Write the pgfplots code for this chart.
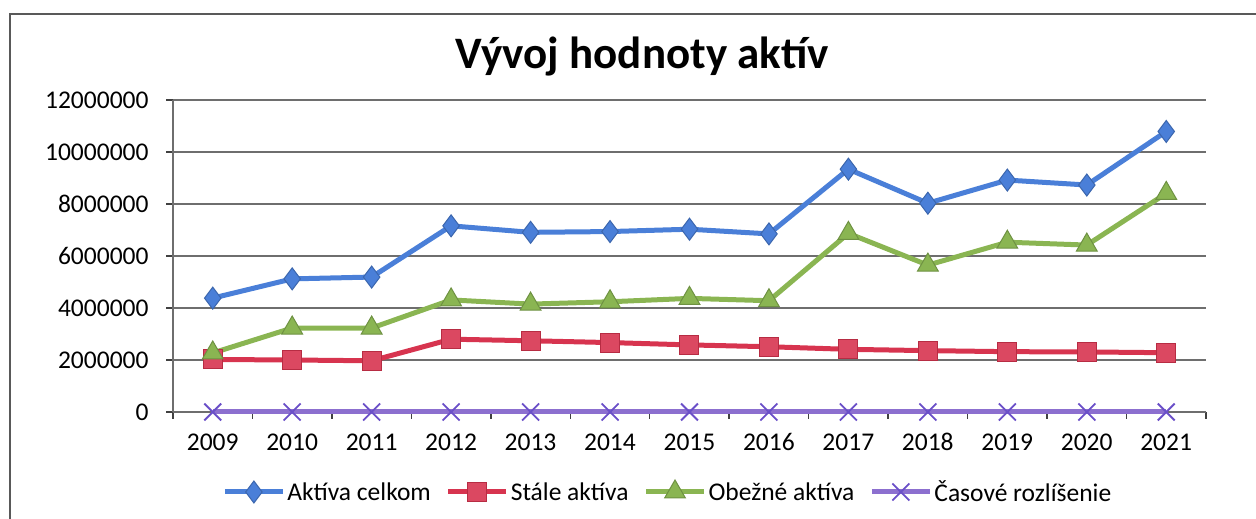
\documentclass[border=0pt]{standalone}
\usepackage{fontspec}
\setmainfont{Carlito}
\usepackage{pgfplots}
\pgfplotsset{compat=1.18}
\definecolor{cblue}{HTML}{4A7FD8}
\definecolor{cred}{HTML}{D7344F}
\definecolor{cgreen}{HTML}{8AB552}
\definecolor{cpurple}{HTML}{8C6FCF}
\definecolor{cpurpmark}{HTML}{6A4FC8}
\definecolor{cgrid}{HTML}{6E6E6E}
\begin{document}
\begin{tikzpicture}[x=1pt,y=1pt]
\useasboundingbox (0,0) rectangle (1256,519);
\draw[line width=2pt, color=black!65] (10,0) -- (10,505) -- (1256,505);
\node[font=\fontsize{45}{54}\selectfont\bfseries, anchor=base, inner sep=0pt] at (642,450) {Vývoj hodnoty aktív};
\begin{axis}[
  at={(173pt,107pt)}, anchor=south west,
  scale only axis, width=1033pt, height=312pt,
  xmin=2008.5, xmax=2021.5, ymin=0, ymax=12000000,
  ytick={0,2000000,...,12000000},
  xtick={2009,...,2021},
  xticklabels={2009,2010,2011,2012,2013,2014,2015,2016,2017,2018,2019,2020,2021},
  minor xtick={2008.5,2009.5,...,2021.5},
  scaled y ticks=false,
  yticklabel style={/pgf/number format/fixed,/pgf/number format/1000 sep={}, xshift=-14pt},
  xticklabel style={yshift=-11pt},
  /pgf/number format/assume math mode=true,
  tick label style={font=\fontsize{25.5}{30}\selectfont},
  axis x line*=bottom, axis y line*=left,
  axis line style={draw=cgrid, line width=2pt},
  ymajorgrids, grid style={draw=cgrid, line width=2pt},
  tick align=outside,
  major tick length=7pt, minor tick length=7pt,
  every tick/.style={draw=black!75, line width=1.5pt},
  xtick style={draw=none},
  minor x tick style={draw=black!75, line width=1.5pt},
  clip=false,
  legend columns=4,
  legend style={draw=none, fill=none, at={(0.479,-0.2564)}, anchor=center,
    font=\fontsize{25.5}{30}\selectfont,
    nodes={inner sep=2pt},
    /tikz/every even column/.append style={column sep=13pt}},
  legend image code/.code={\draw[mark repeat=2,mark phase=2] plot coordinates {(0pt,0pt)(29pt,0pt)(58pt,0pt)};},
  every axis plot/.append style={line width=5pt},
]
\addplot[cblue, mark=diamond*, mark size=11pt, mark options={fill=cblue, draw=cblue!80!black, line width=1pt}] coordinates {
(2009,4380000) (2010,5120000) (2011,5190000) (2012,7160000) (2013,6910000) (2014,6940000) (2015,7030000) (2016,6850000) (2017,9340000) (2018,8030000) (2019,8920000) (2020,8730000) (2021,10790000)};
\addlegendentry{Aktíva celkom}
\addplot[cred, mark=square*, mark size=9.5pt, mark options={fill=cred!90!white, draw=cred!85!black, line width=1pt}] coordinates {
(2009,2020000) (2010,2000000) (2011,1970000) (2012,2800000) (2013,2740000) (2014,2670000) (2015,2580000) (2016,2510000) (2017,2410000) (2018,2360000) (2019,2320000) (2020,2310000) (2021,2280000)};
\addlegendentry{Stále aktíva}
\addplot[cgreen, mark=triangle*, mark size=12pt, mark options={fill=cgreen, draw=cgreen!80!black, line width=1pt}] coordinates {
(2009,2270000) (2010,3230000) (2011,3230000) (2012,4310000) (2013,4150000) (2014,4240000) (2015,4370000) (2016,4280000) (2017,6870000) (2018,5650000) (2019,6530000) (2020,6420000) (2021,8410000)};
\addlegendentry{Obežné aktíva}
\addplot[cpurple, mark=x, mark size=12pt, mark options={draw=cpurpmark, line width=1.8pt}] coordinates {
(2009,0) (2010,0) (2011,0) (2012,0) (2013,0) (2014,0) (2015,0) (2016,0) (2017,0) (2018,0) (2019,0) (2020,0) (2021,0)};
\addlegendentry{Časové rozlíšenie}
\end{axis}
\end{tikzpicture}
\end{document}
